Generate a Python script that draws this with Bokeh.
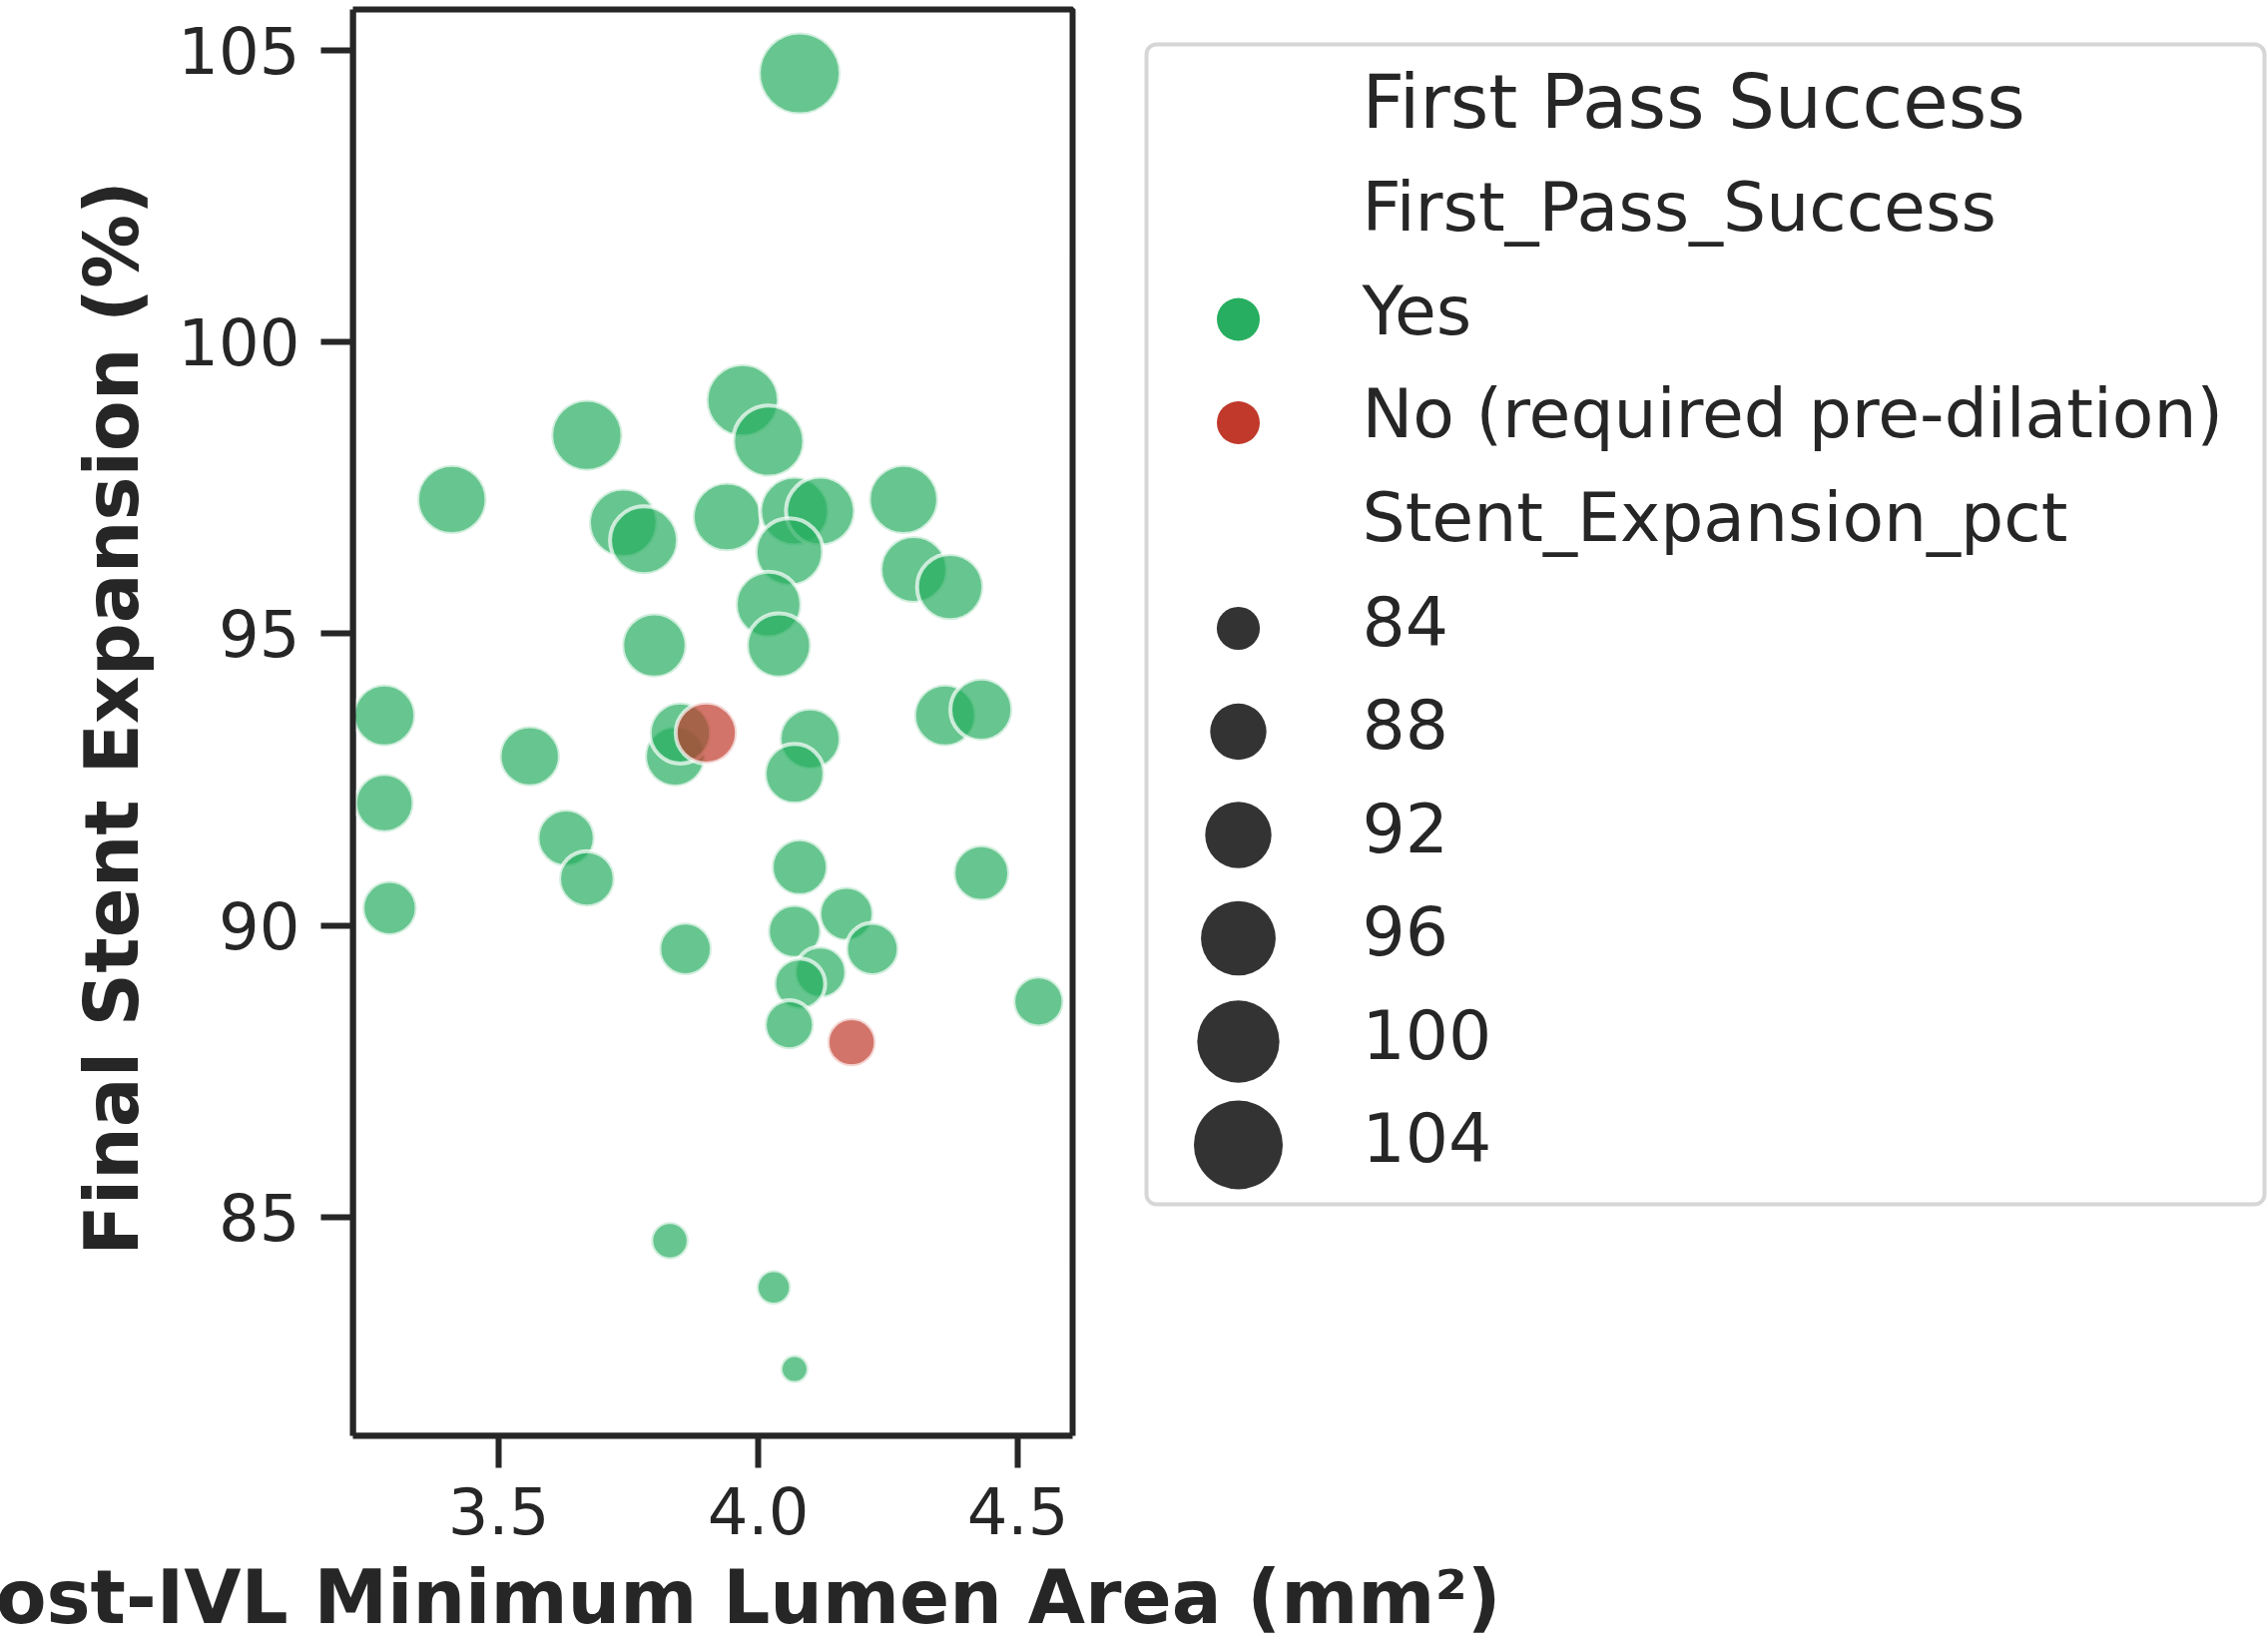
import numpy as np
from bokeh.plotting import figure
from bokeh.models import Range1d, FixedTicker, ColumnDataSource, PrintfTickFormatter, Title
from bokeh.embed import file_html
from bokeh.resources import INLINE
from bokeh.core.properties import value

# ---------------- data ----------------
mla = [4.08, 3.41, 3.67, 3.74, 3.78, 3.80, 3.97, 4.02, 3.94, 4.07, 4.12, 4.06,
       4.28, 4.30, 4.37, 4.02, 4.04, 4.36, 4.43, 3.28, 3.28, 3.29, 3.56, 3.63,
       3.67, 3.86, 3.84, 3.85, 4.10, 4.07, 4.08, 4.43, 4.07, 4.17, 4.22, 4.12,
       4.08, 4.06, 4.54, 3.83, 4.03, 4.07, 3.90, 4.18]
expansion = [104.6, 97.3, 98.4, 96.9, 96.6, 94.8, 99.0, 98.3, 97.0, 97.1, 97.1, 96.4,
             97.3, 96.1, 95.8, 95.5, 94.8, 93.6, 93.7, 93.6, 92.1, 90.3, 92.9, 91.5,
             90.8, 89.6, 92.9, 93.3, 93.2, 92.6, 91.0, 90.9, 89.9, 90.2, 89.6, 89.2,
             89.0, 88.3, 88.7, 84.6, 83.8, 82.4, 93.3, 88.0]
first_pass = ["Yes"] * 42 + ["No (required pre-dilation)"] * 2

hue_levels = ["Yes", "No (required pre-dilation)"]
hue_palette = ["#27ae60", "#c0392b"]
size_legend_values = [84, 88, 92, 96, 100, 104]
x_ticks = [3.5, 4.0, 4.5]
y_ticks = [85, 90, 95, 100, 105]

x_label = "Post-IVL Minimum Lumen Area (mm²)"
y_label = "Final Stent Expansion (%)"
legend_title = "First Pass Success"
hue_title = "First_Pass_Success"
size_title = "Stent_Expansion_pct"

# ---------------- styling / geometry ----------------
FONT = "DejaVu Sans"
INK = "#262626"
EDGE_W = 4
vmin, vmax = min(expansion), max(expansion)
A_LO, A_HI = 24.0 ** 2, 78.0 ** 2


def visible_diam(v):
    v = np.asarray(v, dtype=float)
    return np.sqrt(A_LO + (A_HI - A_LO) * (v - vmin) / (vmax - vmin))


TOTAL_W, TOTAL_H = 2272, 1648
FL, FT = 353, 0                 # frame left / top (canvas px)
FW = TOTAL_W - FL               # frame spans the scatter panel and the legend area
FH = 1438
MB = TOTAL_H - FT - FH

PX_X = 520.0                    # px per x unit
PX_Y = 58.47                    # px per y unit
X_LO = 3.2192
X_HI = X_LO + (1074 - FL) / PX_X
Y_TOP = 105 + 49.7 / PX_Y
Y_LO = Y_TOP - FH / PX_Y
Y_TOP_BOX = Y_TOP - 9 / PX_Y
X_END = X_LO + FW / PX_X


def cx(px):   # canvas px -> x data
    return X_LO + (np.asarray(px, dtype=float) - FL) / PX_X


def cy(py):   # canvas px -> y data
    return Y_TOP - (np.asarray(py, dtype=float) - FT) / PX_Y


color_map = dict(zip(hue_levels, hue_palette))
src = ColumnDataSource(dict(
    x=mla, y=expansion,
    size=list(visible_diam(expansion) + EDGE_W),
    color=[color_map[g] for g in first_pass],
))

p = figure(frame_width=FW, frame_height=FH,
           min_border_left=FL, min_border_top=FT, min_border_bottom=MB,
           min_border_right=0,
           x_range=Range1d(X_LO, X_END), y_range=Range1d(Y_LO, Y_TOP),
           toolbar_location=None, output_backend="svg")
p.xgrid.visible = False
p.ygrid.visible = False
p.outline_line_color = None
p.background_fill_color = "white"
p.border_fill_color = "white"

# box around the scatter panel (top and right spines)
p.quad(left=[X_LO], right=[X_HI], bottom=[Y_LO], top=[Y_TOP_BOX],
       fill_color=None, line_color=INK, line_width=6)

p.scatter("x", "y", source=src, size="size", fill_color="color", fill_alpha=0.7,
          line_color="white", line_alpha=0.7, line_width=EDGE_W)

p.xaxis.ticker = FixedTicker(ticks=x_ticks)
p.yaxis.ticker = FixedTicker(ticks=y_ticks)
p.xaxis.formatter = PrintfTickFormatter(format="%.1f")
p.yaxis.formatter = PrintfTickFormatter(format="%d")
p.xaxis.bounds = (X_LO, X_HI)
p.yaxis.bounds = (Y_LO, Y_TOP_BOX)
p.yaxis.axis_label = y_label
for ax in (p.xaxis[0], p.yaxis[0]):
    ax.axis_line_color = INK
    ax.axis_line_width = 6
    ax.major_tick_line_color = INK
    ax.major_tick_line_width = 6
    ax.major_tick_out = 32
    ax.major_tick_in = 0
    ax.minor_tick_line_color = None
    ax.major_label_text_font = FONT
    ax.major_label_text_font_size = "64px"
    ax.major_label_text_color = INK
    ax.axis_label_text_font = FONT
    ax.axis_label_text_font_size = "74px"
    ax.axis_label_text_font_style = "bold"
    ax.axis_label_text_color = INK
p.yaxis.major_label_standoff = 21
p.yaxis.axis_label_standoff = 20
p.xaxis.major_label_standoff = 19

# x-axis title, centred under the scatter panel (not under the whole frame)
p.add_layout(Title(text=x_label, align="left", offset=-412, standoff=30,
                   text_font=FONT, text_font_size="74px", text_font_style="bold",
                   text_color=INK), "below")

# ---------------- legend (drawn in the same frame, right of the panel) ----------------
LB_L, LB_T, LB_R, LB_B = 1148, 44, 2268, 1206      # legend box, canvas px
p.quad(left=[cx(LB_L)], right=[cx(LB_R)], top=[cy(LB_T)], bottom=[cy(LB_B)],
       fill_color="white", line_color="#d6d6d6", line_width=4, border_radius=10)

TEXT_X = LB_L + 216
MARK_X = LB_L + 92
BASE_SHIFT = 27
ROW0, STEP = LB_T + 190, 103.5

p.text(x=[cx(TEXT_X)], y=[cy(LB_T + 84 - BASE_SHIFT)], text=[legend_title],
       text_font=value(FONT), text_font_size="74px", text_baseline="alphabetic",
       text_color=INK)

rows = [hue_title] + hue_levels + [size_title] + [str(v) for v in size_legend_values]
baselines = [ROW0 + STEP * i for i in range(len(rows))]
p.text(x=list(cx([TEXT_X] * len(rows))), y=list(cy(np.array(baselines) - BASE_SHIFT)),
       text=rows, text_font=value(FONT), text_font_size="68px",
       text_baseline="alphabetic", text_color=INK)

hue_y = cy([baselines[1 + i] - 18 for i in range(len(hue_levels))])
p.scatter(x=list(cx([MARK_X] * len(hue_levels))), y=list(hue_y), size=43,
          fill_color=hue_palette, line_color=None)

size_y = cy([baselines[4 + i] - 19 for i in range(len(size_legend_values))])
p.scatter(x=list(cx([MARK_X] * len(size_legend_values))), y=list(size_y),
          size=list(visible_diam(size_legend_values) + 12),
          fill_color="#333333", line_color=None)

open("out.html", "w").write(file_html(p, INLINE))
